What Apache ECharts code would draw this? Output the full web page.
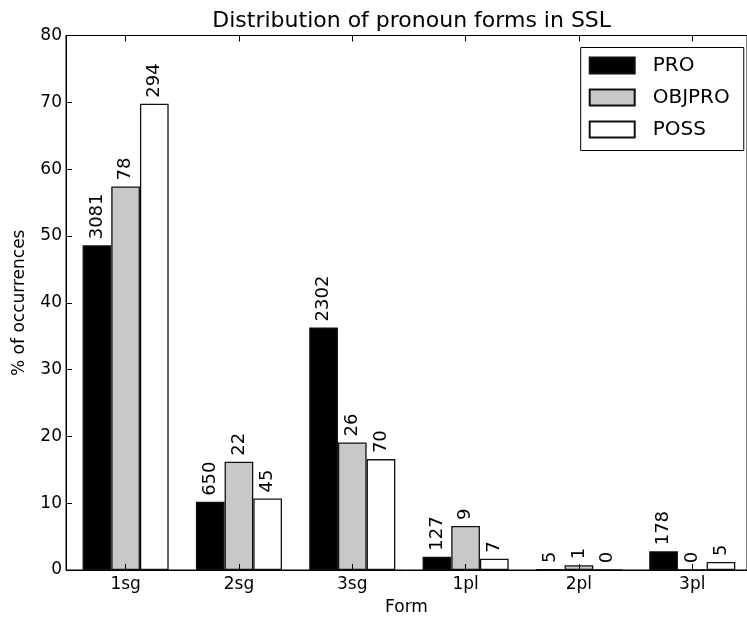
<!DOCTYPE html>
<html>
<head>
<meta charset="utf-8">
<script src="https://cdn.jsdelivr.net/npm/echarts@6/dist/echarts.min.js"></script>
<style>
html,body{margin:0;padding:0;background:#fff;}
#chart{width:747px;height:621px;}
</style>
</head>
<body>
<div id="chart"></div>
<script>
const categories = ['1sg', '2sg', '3sg', '1pl', '2pl', '3pl'];
const seriesNames = ['PRO', 'OBJPRO', 'POSS'];
const proPct = [48.6, 10.2, 36.3, 2.0, 0.1, 2.8];
const objproPct = [57.4, 16.2, 19.1, 6.6, 0.7, 0];
const possPct = [69.8, 10.7, 16.6, 1.7, 0, 1.2];
const proCounts = [3081, 650, 2302, 127, 5, 178];
const objproCounts = [78, 22, 26, 9, 1, 0];
const possCounts = [294, 45, 70, 7, 0, 5];
const yTicks = [0, 10, 20, 30, 40, 50, 60, 70, 80];

const FONT = 'DejaVu Sans';
const tickIdx = categories.map((c, i) => i);

function makeSeries(name, pct, counts, color) {
  return {
    name: name,
    type: 'bar',
    xAxisIndex: 0,
    yAxisIndex: 0,
    barWidth: 28.7,
    barGap: '0%',
    z: 2,
    data: pct.map((v, i) => [i, v]),
    itemStyle: { color: color, borderColor: '#111', borderWidth: 1.3 },
    label: {
      show: true,
      position: 'top',
      rotate: 90,
      align: 'left',
      verticalAlign: 'middle',
      distance: 6,
      fontFamily: FONT,
      fontSize: 18,
      color: '#000',
      formatter: p => String(counts[p.dataIndex])
    },
    emphasis: { disabled: true },
    animation: false
  };
}

const chart = echarts.init(document.getElementById('chart'), null, { renderer: 'canvas' });
const xMin = -0.526, xMax = 5.483;
const tickStyle = { color: '#000', width: 1 };
chart.setOption({
  backgroundColor: '#fff',
  animation: false,
  title: {
    text: 'Distribution of pronoun forms in SSL',
    left: 411.7,
    top: 10,
    padding: 0,
    textAlign: 'center',
    textStyle: { fontFamily: FONT, fontSize: 22, fontWeight: 'normal', color: '#000' }
  },
  grid: {
    left: 66, top: 35.5, width: 691, height: 534.5,
    show: true, borderColor: '#000', borderWidth: 1, backgroundColor: 'transparent'
  },
  legend: {
    orient: 'vertical',
    left: 580.7,
    top: 47.5,
    padding: [8, 14, 11, 8],
    itemWidth: 45,
    itemHeight: 16,
    itemGap: 12,
    icon: 'rect',
    borderColor: '#000',
    borderWidth: 1,
    backgroundColor: '#fff',
    textStyle: { fontFamily: FONT, fontSize: 20, color: '#000', padding: [0, 0, 0, 13] },
    data: seriesNames
  },
  xAxis: [
    {
      type: 'value', position: 'bottom', min: xMin, max: xMax, z: 10,
      splitLine: { show: false },
      axisLine: { show: true, onZero: false, lineStyle: { color: '#000', width: 1 } },
      axisTick: { show: true, inside: true, length: 6, customValues: tickIdx, lineStyle: tickStyle },
      axisLabel: {
        show: true, customValues: tickIdx, margin: 6,
        fontFamily: FONT, fontSize: 17, color: '#000',
        formatter: v => categories[Math.round(v)] || ''
      },
      name: 'Form', nameLocation: 'middle', nameGap: 29,
      nameTextStyle: { fontFamily: FONT, fontSize: 17, color: '#000' }
    },
    {
      type: 'value', position: 'top', min: xMin, max: xMax, z: 10,
      splitLine: { show: false },
      axisLine: { show: true, onZero: false, lineStyle: { color: '#000', width: 1 } },
      axisTick: { show: true, inside: true, length: 6, customValues: tickIdx, lineStyle: tickStyle },
      axisLabel: { show: false }
    }
  ],
  yAxis: {
    type: 'value', min: 0, max: 80, interval: 10, z: 10,
    position: 'left',
    splitLine: { show: false },
    axisLine: { show: true, onZero: false, lineStyle: { color: '#000', width: 1 } },
    axisTick: { show: true, inside: true, length: 6, lineStyle: tickStyle },
    axisLabel: {
      margin: 4, fontFamily: FONT, fontSize: 17, color: '#000',
      formatter: v => (yTicks.indexOf(v) >= 0 ? String(v) : '')
    },
    name: '% of occurrences', nameLocation: 'middle', nameGap: 38,
    nameTextStyle: { fontFamily: FONT, fontSize: 17, color: '#000' }
  },
  series: [
    makeSeries(seriesNames[0], proPct, proCounts, '#000000'),
    makeSeries(seriesNames[1], objproPct, objproCounts, '#c8c8c8'),
    makeSeries(seriesNames[2], possPct, possCounts, '#ffffff')
  ]
});
</script>
</body>
</html>
